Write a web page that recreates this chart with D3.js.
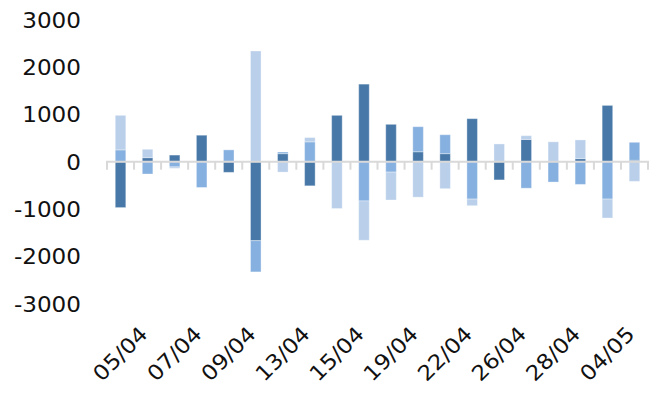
<!DOCTYPE html>
<html>
<head>
<meta charset="utf-8">
<script src="https://cdn.jsdelivr.net/npm/d3@7/dist/d3.min.js"></script>
<style>
  html, body { margin: 0; padding: 0; background: #fff; }
  svg { display: block; }
  text { font-family: "DejaVu Sans", Verdana, sans-serif; fill: #111; }
</style>
</head>
<body>
<svg id="chart" width="659" height="394"></svg>
<script>
// Trading days (every second one is labelled on the axis)
const categories = [
  "01/04", "05/04", "06/04", "07/04", "08/04", "09/04", "12/04", "13/04", "14/04", "15/04",
  "16/04", "19/04", "20/04", "22/04", "23/04", "26/04", "27/04", "28/04", "30/04", "04/05"
];
// Three flows per day, stacked from zero (positives up, negatives down)
const seriesA = [-970, 85, 140, 560, -225, -1670, 170, -510, 980, 1640,
                 790, 210, 170, 910, -385, 470, 0, 65, 1190, 30];
const seriesB = [250, -260, -110, -545, 250, -660, 35, 420, 0, -830,
                 -220, 530, 400, -790, 0, -560, -430, -480, -790, 380];
const seriesC = [730, 177, -30, 0, 0, 2340, -220, 90, -990, -830,
                 -590, -750, -570, -140, 375, 80, 420, 395, -400, -415];
const yTicks = [-3000, -2000, -1000, 0, 1000, 2000, 3000];

const seriesList = [
  { name: "A", values: seriesA, color: "#4778a8" },
  { name: "B", values: seriesB, color: "#86b0df" },
  { name: "C", values: seriesC, color: "#b9cfea" }
];

const svg = d3.select("#chart");
const left = 107, right = 648;

const x = d3.scaleBand()
  .domain(categories)
  .range([left, right])
  .paddingInner(0.61)
  .paddingOuter(0.305);

const y = d3.scaleLinear()
  .domain([-3000, 3000])
  .range([303.6, 19.8]);

// Diverging stack offsets per category
const segments = [];
categories.forEach((c, i) => {
  let pos = 0, neg = 0;
  seriesList.forEach(s => {
    const v = s.values[i];
    if (v >= 0) {
      segments.push({ c, y0: pos, y1: pos + v, color: s.color });
      pos += v;
    } else {
      segments.push({ c, y0: neg + v, y1: neg, color: s.color });
      neg += v;
    }
  });
});

svg.append("g")
  .selectAll("rect")
  .data(segments.filter(d => d.y1 !== d.y0))
  .join("rect")
  .attr("x", d => x(d.c))
  .attr("width", x.bandwidth())
  .attr("y", d => y(d.y1))
  .attr("height", d => y(d.y0) - y(d.y1))
  .attr("fill", d => d.color)
  .attr("stroke", "rgba(255,255,255,0.35)")
  .attr("stroke-width", 1);

// Y axis labels (no axis line), slightly widened glyphs
const yAxis = d3.axisLeft(y)
  .tickValues(yTicks)
  .tickFormat(d => String(d))
  .tickSize(0)
  .tickPadding(0);
const gy = svg.append("g").attr("transform", "translate(81,0)").call(yAxis);
gy.select(".domain").remove();
gy.selectAll("text")
  .style("font-size", "21px")
  .style("font-family", "\"DejaVu Sans\", Verdana, sans-serif")
  .attr("fill", "#111")
  .attr("x", 0)
  .attr("dy", "0.36em")
  .attr("transform", "scale(1.1,1)");

// Category axis at zero with boundary tick marks
const zeroY = y(0);
const step = x.step();
const boundaries = d3.range(categories.length + 1).map(i => left + i * step);
const gx = svg.append("g");
gx.append("line")
  .attr("x1", left - 1).attr("x2", right + 1)
  .attr("y1", zeroY).attr("y2", zeroY)
  .attr("stroke", "#d9d9d9").attr("stroke-width", 2);
gx.selectAll("line.tick")
  .data(boundaries)
  .join("line")
  .attr("class", "tick")
  .attr("x1", d => d).attr("x2", d => d)
  .attr("y1", zeroY).attr("y2", zeroY + 8)
  .attr("stroke", "#d9d9d9").attr("stroke-width", 2);

// Rotated labels for every second category
const labelled = categories.filter((c, i) => i % 2 === 1);
svg.append("g")
  .selectAll("text")
  .data(labelled)
  .join("text")
  .attr("transform", d => `translate(${x(d) + x.bandwidth() / 2 - 4},330) rotate(-45) scale(1.1,1)`)
  .attr("text-anchor", "end")
  .attr("dy", "0.36em")
  .style("font-size", "21px")
  .text(d => d);
</script>
</body>
</html>
